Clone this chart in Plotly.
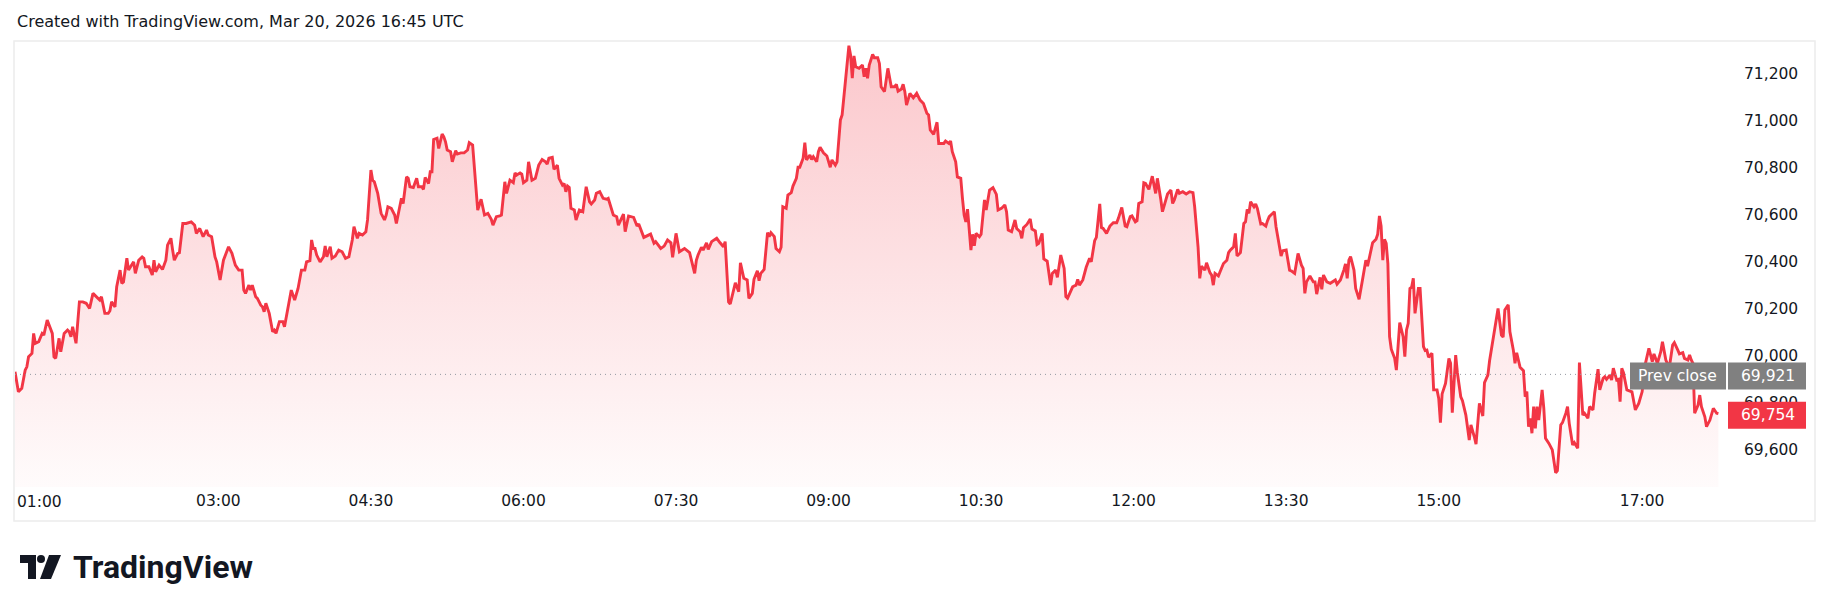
import plotly.graph_objects as go
import pandas as pd

# ---------------- data ----------------
session_date = "2026-03-20"
session_start = "01:00"

minutes_after_0100 = [
    0, 2, 4, 6, 7, 8, 10, 11, 12, 14, 16, 17, 19, 21, 22, 23, 24, 26, 27, 29,
    31, 32, 33, 34, 36, 38, 40, 42, 44, 46, 48, 50, 51, 53, 55, 56, 57, 59, 60, 62,
    63, 64, 65, 66, 67, 69, 70, 71, 73, 75, 76, 77, 79, 81, 82, 83, 85, 87, 89, 90,
    92, 93, 94, 96, 97, 99, 101, 104, 106, 107, 109, 111, 113, 114, 116, 118, 119, 121, 123, 126,
    128, 130, 132, 134, 135, 136, 138, 139, 140, 142, 143, 145, 146, 147, 148, 150, 152, 153, 154, 156,
    158, 159, 161, 163, 165, 167, 169, 171, 172, 174, 175, 176, 177, 178, 180, 182, 183, 184, 186, 187,
    189, 191, 193, 195, 197, 199, 200, 202, 203, 205, 207, 208, 210, 211, 212, 214, 216, 218, 219, 220,
    222, 224, 225, 227, 228, 229, 231, 232, 233, 235, 237, 238, 240, 241, 242, 244, 245, 246, 247, 249,
    250, 252, 253, 254, 255, 257, 258, 260, 261, 263, 265, 267, 268, 270, 271, 272, 273, 275, 277, 279,
    281, 282, 284, 286, 287, 289, 290, 292, 294, 295, 296, 298, 299, 300, 302, 303, 305, 307, 309, 311,
    313, 314, 315, 317, 318, 320, 321, 323, 324, 325, 326, 327, 328, 330, 331, 333, 335, 337, 339, 340,
    342, 343, 345, 347, 349, 350, 351, 353, 355, 356,
    359, 360, 362, 365, 367, 368, 371, 373, 375, 377, 378, 381, 383, 385, 387, 388, 390, 392, 395, 398,
    399, 401, 402, 403, 405, 406, 408, 409, 411, 414, 416, 418, 419, 421, 422, 424, 425, 427, 428, 430,
    432, 433, 435, 436, 438, 439, 440, 442, 444, 445, 446, 448, 449, 451, 452, 453, 455, 456, 458, 459,
    461, 462, 463, 465, 466, 467, 469, 470, 471, 473, 474, 475, 477, 479, 481, 482, 484, 485,
    487, 488, 490, 491, 492, 493, 494, 495, 496, 498, 500, 501, 502, 503, 504, 506, 507, 509, 510, 511,
    513, 515, 516, 517, 519, 520, 521, 523, 524, 525, 526, 528, 530, 531, 532, 534, 536, 538, 539, 540,
    542, 544, 545, 548, 549, 551, 552, 553, 555, 556, 558, 559, 560, 561, 562, 564, 565, 566, 567, 569,
    570, 572, 573, 575, 577, 579, 580, 582, 584, 585, 586, 588, 590, 591, 593, 594, 595, 597, 599, 600,
    602, 603, 604, 606, 607, 609, 611, 612, 614, 615, 617, 619, 620, 621, 624, 626, 627, 628, 630, 632,
    634, 635, 637, 638, 639, 640, 641, 642, 644, 646, 648, 650, 651, 653, 655, 656, 658, 659, 661, 662,
    663, 665, 666, 667, 669, 671, 673, 674, 676, 677, 679, 680, 682, 683, 684, 686, 687, 689, 691, 693,
    695, 696, 698, 699, 700, 702, 703, 705, 706, 707, 708, 710, 711, 713, 715, 716, 717, 719, 720, 721,
    723, 725, 726, 727, 728, 729, 731, 732, 733, 735, 736, 738, 739, 740, 741, 743, 744, 747, 748, 750,
    752, 753, 755, 757, 759, 760, 761, 762, 764, 766, 767, 768, 770, 771, 772, 774, 776, 779, 780, 782,
    784, 785, 786, 787, 788, 790, 791, 793, 795, 797, 798, 800, 801, 803, 804, 805, 806, 807, 808, 809,
    810, 811, 812, 814, 815, 817, 819, 820, 821, 822, 823, 824, 825, 826, 828, 829, 831, 832, 833, 834,
    836, 837, 839, 840, 841, 842, 844, 846, 847, 848, 850, 851, 853, 854, 855, 856, 858, 859, 861, 862,
    864, 866, 867, 869, 870, 872, 874, 875, 877, 878, 879, 881, 882, 884, 885, 886, 888, 890, 891, 892,
    893, 894, 895, 896, 897, 898, 899, 901, 902, 903, 905, 907, 909, 910, 912, 913, 915, 916, 917, 919,
    920, 922, 923, 925, 926, 928, 929, 931, 932, 934, 935, 937, 938, 939, 941, 942, 943, 945, 946, 947,
    948, 949, 951, 954, 956, 958, 960, 962, 964, 966, 967, 969, 971, 972, 974, 976, 978, 979, 981, 982,
    984, 985, 987, 988, 989, 990, 991, 993, 994, 995, 997, 998, 1000, 1002, 1004, 1005,
]

price = [
    69932, 69847, 69862, 69939, 69953, 69996, 70010, 70095, 70053, 70060, 70095, 70088, 70152, 70109, 70095, 69996, 69989, 70074, 70017, 70095,
    70109, 70102, 70081, 70123, 70053, 70229, 70229, 70223, 70201, 70265, 70251, 70237, 70251, 70180, 70180, 70191, 70229, 70208, 70293, 70364,
    70308, 70314, 70364, 70414, 70364, 70392, 70399, 70350, 70406, 70420, 70414, 70378, 70378, 70343, 70406, 70357, 70385, 70367, 70406, 70470,
    70499, 70449, 70406, 70435, 70438, 70562, 70562, 70569, 70555, 70520, 70541, 70506, 70534, 70513, 70506, 70420, 70399, 70322, 70406, 70463,
    70435, 70385, 70364, 70364, 70279, 70265, 70300, 70279, 70300, 70251, 70244, 70215, 70208, 70187, 70223, 70180, 70102, 70109, 70095, 70145,
    70145, 70123, 70208, 70279, 70237, 70286, 70364, 70364, 70399, 70404, 70492, 70456, 70456, 70428, 70399, 70421, 70466, 70421, 70463, 70414,
    70424, 70449, 70442, 70414, 70421, 70492, 70548, 70499, 70520, 70513, 70527, 70577, 70789, 70746, 70739, 70690, 70605, 70577, 70598, 70633,
    70626, 70598, 70562, 70633, 70669, 70647, 70760, 70754, 70718, 70715, 70754, 70718, 70718, 70707, 70758, 70732, 70782, 70782, 70919, 70924,
    70881, 70942, 70930, 70909, 70874, 70867, 70824, 70871, 70857, 70862, 70862, 70874, 70905, 70895, 70810, 70718, 70619, 70665, 70598, 70605,
    70580, 70555, 70591, 70594, 70598, 70739, 70690, 70746, 70735, 70777, 70768, 70777, 70772, 70735, 70746, 70824, 70746, 70754, 70810, 70834,
    70824, 70814, 70839, 70843, 70792, 70810, 70754, 70725, 70732, 70697, 70721, 70715, 70626, 70619, 70577, 70619, 70612, 70718, 70654, 70645,
    70662, 70690, 70697, 70669, 70665, 70669, 70645, 70598, 70591, 70555,
    70602, 70527, 70594, 70588, 70551, 70560, 70503, 70509, 70517, 70478, 70485, 70456, 70466, 70492, 70480, 70418, 70520, 70442, 70456, 70438,
    70406, 70350, 70406, 70428, 70461, 70449, 70480, 70452, 70485, 70499, 70480, 70463, 70485, 70229, 70220, 70279, 70310, 70272, 70395, 70329,
    70322, 70244, 70265, 70325, 70361, 70319, 70350, 70367, 70523, 70506, 70523, 70506, 70456, 70442, 70461, 70633, 70626, 70683, 70693, 70721,
    70754, 70801, 70801, 70839, 70905, 70832, 70853, 70834, 70846, 70824, 70867, 70886, 70862, 70849, 70801, 70832, 70810, 70824,
    71002, 71023, 71179, 71256, 71317, 71277, 71179, 71274, 71228, 71221, 71235, 71185, 71221, 71179, 71235, 71280, 71266, 71266, 71242, 71143,
    71122, 71221, 71179, 71143, 71143, 71153, 71124, 71133, 71153, 71122, 71065, 71115, 71096, 71105, 71115, 71086, 71072, 71030, 71023, 70959,
    70941, 70992, 70902, 70902, 70912, 70902, 70912, 70867, 70824, 70760, 70754, 70669, 70598, 70569, 70623, 70449, 70516, 70467, 70520, 70506,
    70516, 70662, 70619, 70704, 70714, 70686, 70619, 70626, 70641, 70612, 70534, 70527, 70577, 70541, 70527, 70499, 70544, 70558, 70581, 70538,
    70530, 70473, 70478, 70520, 70411, 70402, 70300, 70350, 70364, 70333, 70428, 70371, 70251, 70244, 70293, 70300, 70325, 70300, 70322, 70376,
    70414, 70399, 70489, 70503, 70562, 70645, 70545, 70541, 70520, 70551, 70565, 70565, 70584, 70630, 70551, 70548, 70591, 70594, 70569, 70574,
    70647, 70654, 70735, 70732, 70707, 70763, 70690, 70754, 70665, 70612, 70662, 70687, 70704, 70647, 70662, 70707, 70690, 70697, 70687, 70697,
    70693, 70633, 70463, 70329, 70381, 70364, 70395, 70353, 70343, 70300, 70350, 70339, 70357, 70392, 70406, 70438, 70449, 70463, 70520, 70424,
    70438, 70562, 70569, 70622, 70605, 70654, 70633, 70645, 70626, 70560, 70562, 70551, 70574, 70591, 70598, 70612, 70548, 70424, 70446, 70449,
    70364, 70361, 70350, 70435, 70385, 70371, 70265, 70314, 70339, 70314, 70314, 70262, 70333, 70282, 70343, 70314, 70308, 70322, 70304, 70322,
    70364, 70390, 70329, 70406, 70421, 70364, 70286, 70240, 70322, 70406, 70381, 70442, 70480, 70495, 70517, 70594, 70551, 70406, 70495, 70478,
    70392, 70081, 70028, 69989, 69939, 70141, 70081, 69996, 70110, 70138, 70286, 70291, 70329, 70180, 70286, 70286, 70039, 70022, 70024, 69994,
    70011, 69855, 69855, 69819, 69716, 69838, 69883, 69989, 69968, 69758, 70003, 69928, 69826, 69809, 69784, 69748, 69642, 69706, 69656, 69625,
    69798, 69744, 69886, 69918, 69979, 70076, 70166, 70201, 70088, 70079, 70195, 70216, 70102, 70025, 69968, 70013, 69951, 69937, 69826, 69848,
    69699, 69734, 69671, 69784, 69692, 69784, 69727, 69855, 69777, 69650, 69628, 69600, 69503, 69512, 69706, 69716, 69756, 69784, 69713, 69621,
    69631, 69607, 69971, 69748, 69756, 69735, 69784, 69770, 69841, 69943, 69855, 69904, 69911, 69900, 69918, 69897, 69947, 69897, 69900, 69805,
    69947, 69928, 69855, 69847, 69770, 69798, 69847, 69969, 70032, 69975, 70008, 69968, 70017, 70060, 69982, 69948, 70046, 70056, 70025, 70008,
    70013, 69989, 69982, 70003, 69982, 69968, 69756, 69791, 69833, 69784, 69741, 69699, 69727, 69777, 69756, 69754,
]

prev_close = 69921
x_tick_labels = ["01:00", "03:00", "04:30", "06:00", "07:30", "09:00",
                 "10:30", "12:00", "13:30", "15:00", "17:00"]
y_tick_values = [69600, 69800, 70000, 70200, 70400, 70600, 70800, 71000, 71200]
title_text = "Created with TradingView.com, Mar 20, 2026 16:45 UTC"
brand_text = "TradingView"

assert len(minutes_after_0100) == len(price)

# ---------------- derived ----------------
t0 = pd.Timestamp(f"{session_date} {session_start}")
times = [t0 + pd.Timedelta(minutes=m) for m in minutes_after_0100]
last_price = price[-1]
tick_times = [pd.Timestamp(f"{session_date} {lbl}") for lbl in x_tick_labels]

# ---------------- layout geometry ----------------
W, H = 1830, 611
PL, PR, PT, PB = 15, 1735, 41, 487           # plot area in px
Y_MIN, Y_MAX = 69442.6, 71337.2
X_END = t0 + pd.Timedelta(minutes=1014.8)

def px_x(px):
    return (px - PL) / (PR - PL)

def px_y(py):
    return (PB - py) / (PB - PT)

def val_to_py(v):
    return PT + (Y_MAX - v) / (Y_MAX - Y_MIN) * (PB - PT)

RED = "#F23645"
GREY = "#808080"
TXT = "#131722"
FONT = "DejaVu Sans"
FS = 15.5

fig = go.Figure()
fig.add_trace(go.Scatter(
    x=times, y=price, mode="lines",
    line=dict(color=RED, width=2.9),
    fill="tozeroy",
    fillgradient=dict(type="vertical",
                      colorscale=[[0, "rgba(242,54,69,0.02)"], [1, "rgba(242,54,69,0.28)"]],
                      start=Y_MIN, stop=Y_MAX),
    hoverinfo="skip", showlegend=False,
))

shapes = []
annotations = []

# outer frame
shapes.append(dict(type="rect", xref="paper", yref="paper",
                   x0=px_x(14), x1=px_x(1815), y0=px_y(521), y1=px_y(41),
                   line=dict(color="#ECECEC", width=1.5), fillcolor="rgba(0,0,0,0)", layer="below"))

# prev close dotted line
shapes.append(dict(type="line", xref="paper", yref="y",
                   x0=0, x1=px_x(1629), y0=prev_close, y1=prev_close,
                   line=dict(color="#9598A1", width=1, dash="1px,4px"), layer="above"))

def label_box(value, x0px, x1px, color, text, text_x, anchor):
    cy = val_to_py(value) + 1.6
    shapes.append(dict(type="rect", xref="paper", yref="paper",
                       x0=px_x(x0px), x1=px_x(x1px), y0=px_y(cy + 13.5), y1=px_y(cy - 13.5),
                       fillcolor=color, line=dict(width=0), layer="above"))
    annotations.append(dict(xref="paper", yref="paper", x=px_x(text_x), y=px_y(cy),
                            xanchor=anchor, yanchor="middle", text=text, showarrow=False,
                            font=dict(family=FONT, size=FS, color="white")))

label_box(prev_close, 1630, 1726, GREY, "Prev close", 1677, "center")
label_box(prev_close, 1728, 1806, GREY, f"{prev_close:,}", 1797, "right")
label_box(last_price, 1728, 1806, RED, f"{last_price:,}", 1797, "right")

# first time label is left-aligned at the pane edge
annotations.append(dict(xref="x", yref="paper", x=tick_times[0], y=px_y(502),
                        xanchor="left", yanchor="middle", text=x_tick_labels[0], showarrow=False,
                        font=dict(family=FONT, size=FS, color=TXT)))

# header text
annotations.append(dict(xref="paper", yref="paper", x=px_x(15), y=px_y(21),
                        xanchor="left", yanchor="middle", text=title_text, showarrow=False,
                        font=dict(family=FONT, size=16, color=TXT)))

# brand logo (icon + wordmark)
shapes.append(dict(type="rect", xref="paper", yref="paper",
                   x0=px_x(20), x1=px_x(36), y0=px_y(563), y1=px_y(555),
                   fillcolor=TXT, line=dict(width=0)))
shapes.append(dict(type="rect", xref="paper", yref="paper",
                   x0=px_x(28), x1=px_x(36), y0=px_y(579), y1=px_y(555),
                   fillcolor=TXT, line=dict(width=0)))
shapes.append(dict(type="circle", xref="paper", yref="paper",
                   x0=px_x(37), x1=px_x(45), y0=px_y(563), y1=px_y(555),
                   fillcolor=TXT, line=dict(width=0)))
shapes.append(dict(type="path", xref="paper", yref="paper",
                   path=(f"M {px_x(49)} {px_y(555)} L {px_x(61)} {px_y(555)} "
                         f"L {px_x(51)} {px_y(579)} L {px_x(40)} {px_y(579)} Z"),
                   fillcolor=TXT, line=dict(width=0)))
annotations.append(dict(xref="paper", yref="paper", x=px_x(71), y=px_y(567),
                        xanchor="left", yanchor="middle", text=f"<b>{brand_text}</b>", showarrow=False,
                        font=dict(family="Roboto", size=32, color=TXT)))

fig.update_layout(
    width=W, height=H, autosize=False,
    margin=dict(l=PL, r=W - PR, t=PT, b=H - PB, pad=0),
    paper_bgcolor="white", plot_bgcolor="white",
    shapes=shapes, annotations=annotations,
    xaxis=dict(type="date", range=[t0, X_END], showgrid=False, zeroline=False, showline=False,
               ticks="", tickvals=tick_times[1:], ticktext=x_tick_labels[1:],
               tickfont=dict(family=FONT, size=FS, color=TXT), ticklabelstandoff=2, fixedrange=True),
    yaxis=dict(side="right", range=[Y_MIN, Y_MAX], showgrid=False, zeroline=False, showline=False,
               ticks="", tickvals=y_tick_values, ticktext=[f"{v:,}" for v in y_tick_values],
               tickfont=dict(family=FONT, size=FS, color=TXT), ticklabelstandoff=8, fixedrange=True),
    showlegend=False,
)

fig.write_html("out.html", config=dict(displayModeBar=False, staticPlot=True),
               post_script="document.body.style.margin='0';document.body.style.overflow='hidden';")
